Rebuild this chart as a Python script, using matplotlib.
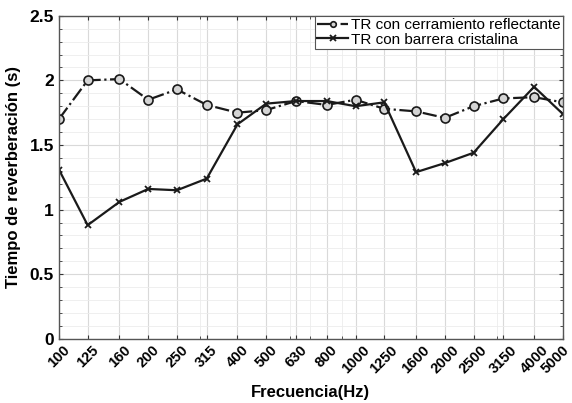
import matplotlib
matplotlib.use("Agg")
import matplotlib.pyplot as plt
import matplotlib.transforms as mtransforms
from matplotlib.ticker import FixedLocator, NullFormatter, MultipleLocator

freqs = [100, 125, 160, 200, 250, 315, 400, 500, 630, 800, 1000, 1250,
         1600, 2000, 2500, 3150, 4000, 5000]
tr_reflectante = [1.70, 2.00, 2.01, 1.85, 1.93, 1.81, 1.75, 1.77, 1.84,
                  1.81, 1.85, 1.78, 1.76, 1.71, 1.80, 1.86, 1.87, 1.83]
tr_cristalina = [1.31, 0.88, 1.06, 1.16, 1.15, 1.24, 1.66, 1.82, 1.84,
                 1.84, 1.80, 1.83, 1.29, 1.36, 1.44, 1.70, 1.95, 1.74]
y_ticks = [0, 0.5, 1, 1.5, 2, 2.5]
y_labels = ["0", "0.5", "1", "1.5", "2", "2.5"]

plt.rcParams['font.family'] = ['Liberation Sans', 'DejaVu Sans']

fig = plt.figure(figsize=(5.72, 4.03), dpi=100)
ax = fig.add_axes([0.103, 0.159, 0.881, 0.802])

ax.plot(freqs, tr_reflectante, linestyle='-.', color='#1a1a1a', lw=1.6,
        marker='o', markersize=6.5, markerfacecolor='#d4d4d4',
        markeredgecolor='#1a1a1a', markeredgewidth=1.2,
        label='TR con cerramiento reflectante')
ax.plot(freqs, tr_cristalina, linestyle='-', color='#1a1a1a', lw=1.6,
        marker='x', markersize=4, markeredgewidth=1.3,
        label='TR con barrera cristalina')

ax.set_xscale('log')
ax.set_xlim(100, 5000)
ax.set_ylim(0, 2.5)

ax.xaxis.set_major_locator(FixedLocator(freqs))
minor_x = [200, 300, 400, 500, 600, 700, 800, 900, 1000, 2000, 3000, 4000]
ax.xaxis.set_minor_locator(FixedLocator(minor_x))
ax.xaxis.set_minor_formatter(NullFormatter())

ax.set_yticks(y_ticks)
ax.set_yticklabels(y_labels, fontsize=12.5, fontweight='bold')
ax.yaxis.set_minor_locator(MultipleLocator(0.1))

ax.grid(which='major', color='#d9d9d9', lw=0.8)
ax.grid(which='minor', color='#ececec', lw=0.6)
ax.set_axisbelow(True)
ax.tick_params(which='both', direction='in', length=3, color='#333333',
               top=True, right=True)
ax.tick_params(which='minor', length=2)
ax.tick_params(axis='x', pad=3)
for s in ax.spines.values():
    s.set_color('#555555')
    s.set_linewidth(1.0)

ax.set_xticklabels([str(f) for f in freqs], rotation=45, fontsize=10.5,
                   fontweight='bold', ha='center', va='top')
# nudge the last label so it stays inside the figure (after tick_params)
last = ax.get_xticklabels()[-1]
last.set_transform(last.get_transform() +
                   mtransforms.ScaledTranslation(-0.07, 0, fig.dpi_scale_trans))

ax.set_xlabel('Frecuencia(Hz)', fontsize=12, fontweight='bold', labelpad=6)
ax.set_ylabel('Tiempo de reverberación (s)', fontsize=12, fontweight='bold',
              labelpad=6)

leg = ax.legend(loc='upper right', fontsize=11, frameon=True, fancybox=False,
                borderaxespad=0, borderpad=0.15, handlelength=2.0,
                handletextpad=0.2, labelspacing=0.05, framealpha=1)
leg.get_frame().set_edgecolor('#555555')
leg.get_frame().set_linewidth(0.8)
for h in leg.legend_handles:
    h.set_markersize(4)

fig.savefig('out.png', dpi=100)
